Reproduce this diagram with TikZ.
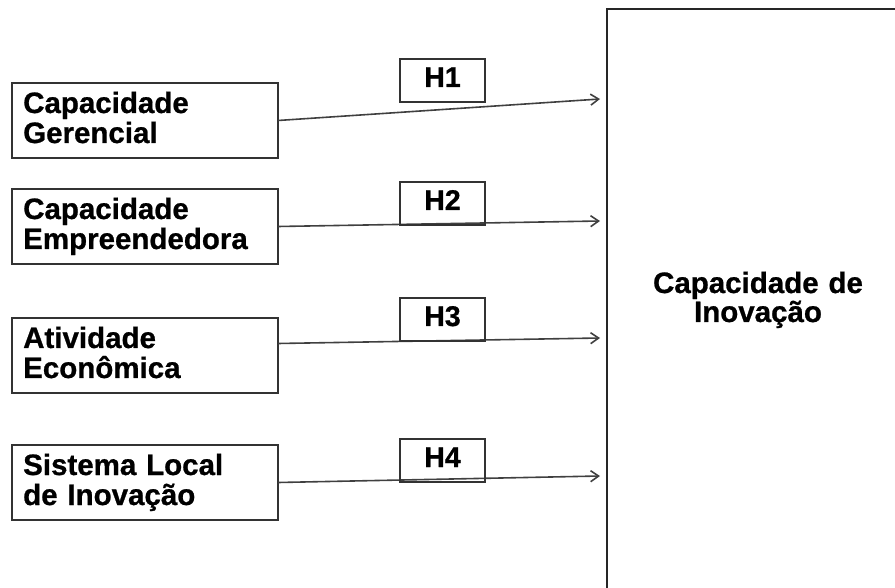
\documentclass[tikz,border=0pt]{standalone}
\usepackage{fontspec}
\setmainfont[BoldFeatures={FakeBold=0.8}]{Liberation Sans}
\usetikzlibrary{arrows.meta}
\begin{document}
\begin{tikzpicture}[x=1pt,y=-1pt,
  varbox/.style={draw=black!80, line width=1.9pt, minimum width=266pt, minimum height=75pt, anchor=north west, inner sep=0pt, outer sep=0pt},
  hbox/.style={draw=black!80, line width=1.8pt, minimum width=85pt, minimum height=43pt, anchor=north west, inner sep=0pt, outer sep=0pt,
     font=\fontsize{28.5}{30}\selectfont\bfseries, text height=20pt, text depth=7pt},
  lbl/.style={font=\fontsize{29.5}{30}\selectfont\bfseries, text width=250pt, align=left, anchor=base west, inner sep=0pt},
  bigbox/.style={draw=black!85, line width=2pt, minimum width=400pt, minimum height=700pt, anchor=north west, inner sep=0pt, outer sep=0pt},
  biglbl/.style={font=\fontsize{29.5}{29}\selectfont\bfseries, text width=240pt, align=center, anchor=base, inner sep=0pt},
  conn/.style={draw=black!75, line width=1.6pt, -{Straight Barb[length=8pt,width=11pt]}},
]
\useasboundingbox (0,0) rectangle (895,588);
\clip (0,0) rectangle (895,588);

% variable boxes
\node[varbox] (b1) at (12,83) {};
\node[varbox] (b2) at (12,189) {};
\node[varbox] (b3) at (12,318) {};
\node[varbox] (b4) at (12,445) {};

\node[lbl] (t1) at (23,113) {Capacidade\\Gerencial};
\node[lbl] (t2) at (23,219) {Capacidade\\Empreendedora};
\node[lbl] (t3) at (23,348) {Atividade\\Econômica};
\node[lbl] (t4) at (23,475) {Sistema Local\\de Inovação};

% big box
\node[bigbox] (ci) at (607,9) {};
\node[biglbl] (cit) at (758,293) {Capacidade de\\Inovação};

% arrow ends
\coordinate (e1) at (600,99);
\coordinate (e2) at (600,221);
\coordinate (e3) at (600,338);
\coordinate (e4) at (600,476);

\draw[conn] (b1.east) -- (e1);
\draw[conn] (b2.east) -- (e2);
\draw[conn] ([yshift=12pt]b3.east) -- (e3);
\draw[conn] (b4.east) -- (e4);

% hypothesis labels
\node[hbox] (h1) at (400,59) {H1};
\node[hbox] (h2) at (400,182) {H2};
\node[hbox] (h3) at (400,298) {H3};
\node[hbox] (h4) at (400,439) {H4};
\end{tikzpicture}
\end{document}
